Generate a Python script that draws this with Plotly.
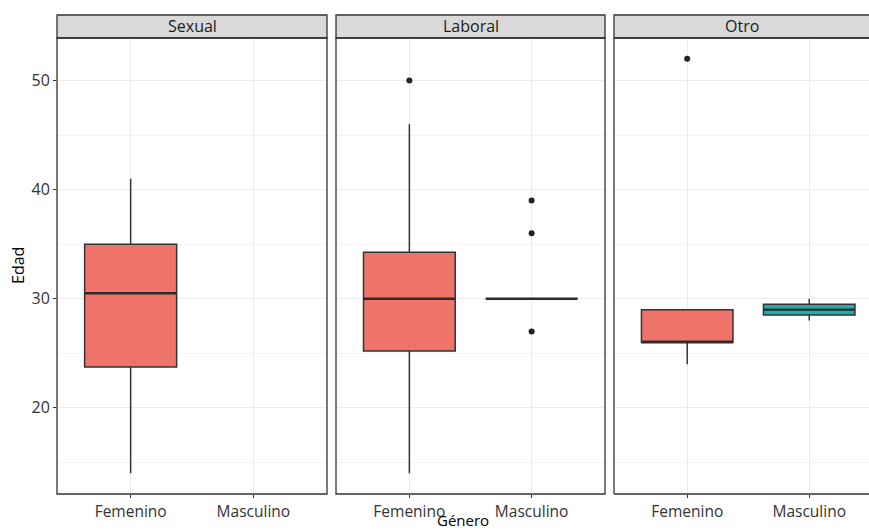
import plotly.graph_objects as go

# Facets and gender categories
facets = ["Sexual", "Laboral", "Otro"]
generos = ["Femenino", "Masculino"]

# Precomputed box statistics per facet (None where the group has no data)
box_q1 = {"Sexual": [23.75, None], "Laboral": [25.2, 30.0], "Otro": [26.0, 28.5]}
box_median = {"Sexual": [30.5, None], "Laboral": [30.0, 30.0], "Otro": [26.0, 29.0]}
box_q3 = {"Sexual": [35.0, None], "Laboral": [34.25, 30.0], "Otro": [29.0, 29.5]}
box_low = {"Sexual": [14.0, None], "Laboral": [14.0, 30.0], "Otro": [24.0, 28.0]}
box_high = {"Sexual": [41.0, None], "Laboral": [46.0, 30.0], "Otro": [29.0, 30.0]}

# Outlying ages per facet and gender
outliers = {
    "Sexual": [[], []],
    "Laboral": [[50], [39, 36, 27]],
    "Otro": [[52], []],
}

fill_colors = ["#F07369", "#22AEB0"]
edge = "#333333"
box_width = 0.75

W, H = 869, 532
ml, mr, mt, mb = 57, 0, 38, 38
pw = W - ml - mr
ph = H - mt - mb

# Panel pixel extents (left, right) in figure coordinates
panel_px = [(57, 327), (336, 605), (614, 869)]
x_ranges = [[-0.6, 1.6], [-0.6, 1.6], [-0.6, 1.49]]
y_range = [12.1, 53.9]


def px_to_paper(x):
    return (x - ml) / pw


fig = go.Figure()

for i, facet in enumerate(facets):
    xa = "x" if i == 0 else f"x{i + 1}"
    ya = "y" if i == 0 else f"y{i + 1}"
    for j, g in enumerate(generos):
        if box_median[facet][j] is not None:
            fig.add_trace(go.Box(
                x=[j], q1=[box_q1[facet][j]], median=[box_median[facet][j]],
                q3=[box_q3[facet][j]], lowerfence=[box_low[facet][j]],
                upperfence=[box_high[facet][j]],
                width=box_width, whiskerwidth=0,
                fillcolor=fill_colors[j], line=dict(color=edge, width=1.5),
                boxpoints=False, showlegend=False, hoverinfo="skip",
                xaxis=xa, yaxis=ya,
            ))
            # thicker median bar
            m = box_median[facet][j]
            fig.add_trace(go.Scatter(
                x=[j - box_width / 2, j + box_width / 2], y=[m, m],
                mode="lines", line=dict(color="#2b2b2b", width=2.4),
                showlegend=False, hoverinfo="skip", xaxis=xa, yaxis=ya,
            ))
        if outliers[facet][j]:
            fig.add_trace(go.Scatter(
                x=[j] * len(outliers[facet][j]), y=outliers[facet][j],
                mode="markers", marker=dict(color="#222222", size=6),
                showlegend=False, hoverinfo="skip", xaxis=xa, yaxis=ya,
            ))

font = "Open Sans"
tick_font = dict(family=font, size=15.5, color="#333333")
grid = "#EBEBEB"

layout = dict(
    width=W, height=H,
    margin=dict(l=ml, r=mr, t=mt, b=mb),
    paper_bgcolor="white", plot_bgcolor="white",
    showlegend=False,
)

shapes = []
annotations = []
strip_top = 1 + 23 / ph

for i, facet in enumerate(facets):
    sfx = "" if i == 0 else str(i + 1)
    x0 = px_to_paper(panel_px[i][0])
    x1 = px_to_paper(panel_px[i][1])
    layout[f"xaxis{sfx}"] = dict(
        domain=[x0, x1], range=x_ranges[i],
        tickvals=[0, 1], ticktext=generos,
        tickfont=tick_font, ticks="outside", ticklen=3, tickcolor=edge,
        showgrid=True, gridcolor=grid, gridwidth=1,
        zeroline=False, showline=False, anchor=f"y{sfx}",
    )
    layout[f"yaxis{sfx}"] = dict(
        domain=[0, 1], range=y_range,
        tick0=0, dtick=10,
        minor=dict(dtick=5, tick0=0, showgrid=True, gridcolor="#F3F3F3", gridwidth=0.8),
        showgrid=True, gridcolor=grid, gridwidth=1,
        zeroline=False, showline=False, anchor=f"x{sfx}",
        showticklabels=(i == 0), ticks="outside" if i == 0 else "",
        ticklen=3, tickcolor=edge, tickfont=dict(family=font, size=16, color="#333333"),
    )
    if i > 0:
        layout[f"yaxis{sfx}"]["matches"] = "y"

    # panel border (open on the right where the last panel is clipped)
    if i < 2:
        shapes.append(dict(type="rect", xref="paper", yref="paper",
                           x0=x0, x1=x1, y0=0, y1=1,
                           line=dict(color=edge, width=1.3), fillcolor="rgba(0,0,0,0)"))
        shapes.append(dict(type="rect", xref="paper", yref="paper",
                           x0=x0, x1=x1, y0=1, y1=strip_top,
                           line=dict(color=edge, width=1.3), fillcolor="#D9D9D9", layer="below"))
    else:
        for (a, b, c, d) in [(x0, 0, x0, 1), (x0, 0, 1, 0), (x0, 1, 1, 1)]:
            shapes.append(dict(type="line", xref="paper", yref="paper",
                               x0=a, y0=b, x1=c, y1=d, line=dict(color=edge, width=1.3)))
        shapes.append(dict(type="rect", xref="paper", yref="paper",
                           x0=x0, x1=1.01, y0=1, y1=strip_top,
                           line=dict(color=edge, width=1.3), fillcolor="#D9D9D9", layer="below"))
    sx_center = (x0 + min(x1, px_to_paper(881))) / 2
    annotations.append(dict(text=facet, x=sx_center, y=(1 + strip_top) / 2,
                            xref="paper", yref="paper", showarrow=False,
                            xanchor="center", yanchor="middle",
                            font=dict(family=font, size=16, color="#1A1A1A")))

# axis titles
annotations.append(dict(text="Edad", x=px_to_paper(18), y=0.5, xref="paper", yref="paper",
                        textangle=-90, showarrow=False, xanchor="center", yanchor="middle",
                        font=dict(family=font, size=16, color="black")))
annotations.append(dict(text="Género", x=px_to_paper(463), y=-(532 - 494) / ph,
                        xref="paper", yref="paper", showarrow=False,
                        xanchor="center", yanchor="bottom",
                        font=dict(family=font, size=15, color="black")))

layout["shapes"] = shapes
layout["annotations"] = annotations
fig.update_layout(**layout)

fig.write_html("out.html")
